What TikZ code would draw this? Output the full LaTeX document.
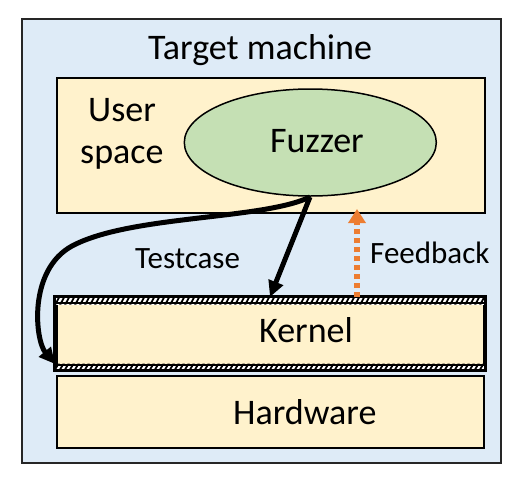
\documentclass[tikz,border=0pt]{standalone}
\usepackage{fontspec}
\setmainfont{Carlito}
\usetikzlibrary{arrows.meta,shapes.geometric}
\definecolor{machinebg}{RGB}{222,235,247}
\definecolor{layerbg}{RGB}{255,242,204}
\definecolor{fuzzbg}{RGB}{197,224,180}
\definecolor{fborange}{RGB}{237,125,49}
\tikzset{
  bigtext/.style={font=\fontsize{36}{42}\selectfont, inner sep=0pt},
  smalltext/.style={font=\fontsize{31}{36}\selectfont, inner sep=0pt},
  layerbox/.style={draw=black, fill=layerbg, line width=2pt, inner sep=0pt},
  hatchline/.style={line width=1.8pt, black},
  testarrow/.style={line width=5pt, -{Triangle[length=16pt,width=15pt]}},
  feedarrow/.style={draw=fborange, line width=5.5pt, dash pattern=on 5pt off 4pt, -{Triangle[length=14pt,width=17pt]}}
}
\begin{document}
\begin{tikzpicture}[x=1pt,y=-1pt]
\useasboundingbox (0,0) rectangle (516,479);
% outer machine box
\node[draw=black!85, fill=machinebg, line width=1.5pt, minimum width=479pt, minimum height=444pt, inner sep=0pt] (machine) at (261.5,241) {};
\node[bigtext, anchor=base west] (machinelabel) at (148,59) {Target machine};
% user space
\node[layerbox, minimum width=428pt, minimum height=135pt] (user) at (271,145.5) {};
\node[bigtext, anchor=base west] (userlabel1) at (88,121) {User};
\node[bigtext, anchor=base west] (userlabel2) at (80,163) {space};
% fuzzer
\node[ellipse, draw=black, fill=fuzzbg, line width=1.5pt, minimum width=252pt, minimum height=107pt, inner sep=0pt] (fuzzer) at (310.3,142.5) {};
\node[bigtext, anchor=base west] (fuzzerlabel) at (270,152) {Fuzzer};
% kernel
\node[draw=black, fill=layerbg, line width=3pt, minimum width=428pt, minimum height=71pt, inner sep=0pt] (kernel) at (270,333.5) {};
\fill[white] (56,298) rectangle (484,304.5);
\fill[white] (56,363.5) rectangle (484,369);
\begin{scope}
  \clip (56,298) rectangle (484,304.5) (56,363.5) rectangle (484,369);
  \foreach \hx in {50,55,...,490} {
    \draw[hatchline] (\hx,305) -- (\hx+4,297.5);
    \draw[hatchline] (\hx,369.5) -- (\hx+4,363);
  }
\end{scope}
\draw[line width=2.2pt] ([yshift=-6.5pt]kernel.north west) -- ([yshift=-6.5pt]kernel.north east);
\draw[line width=2.2pt] ([yshift=5.5pt]kernel.south west) -- ([yshift=5.5pt]kernel.south east);
\draw[line width=3pt] (kernel.north west) rectangle (kernel.south east);
\node[bigtext, anchor=base west] (kernellabel) at (259,342) {Kernel};
% hardware
\node[layerbox, minimum width=427pt, minimum height=72pt] (hardware) at (270.5,412) {};
\node[bigtext, anchor=base west] (hardwarelabel) at (233,424) {Hardware};
% arrows
\coordinate (fuzzout) at (310,197);
\coordinate (kernelin) at (270,297);
\coordinate (kernelbottom) at (55,364);
\coordinate (feedstart) at (357,297);
\coordinate (feedend) at (357,209);
\draw[testarrow] (fuzzout) -- (kernelin);
\draw[testarrow] (fuzzout) .. controls (262,220) and (130,215) .. (72,246) .. controls (28,270) and (35,340) .. (kernelbottom);
\draw[feedarrow] (feedstart) -- (feedend);
\node[smalltext, anchor=base west] (testlabel) at (135,268) {Testcase};
\node[smalltext, anchor=base west] (feedlabel) at (370,263) {Feedback};
\end{tikzpicture}
\end{document}
